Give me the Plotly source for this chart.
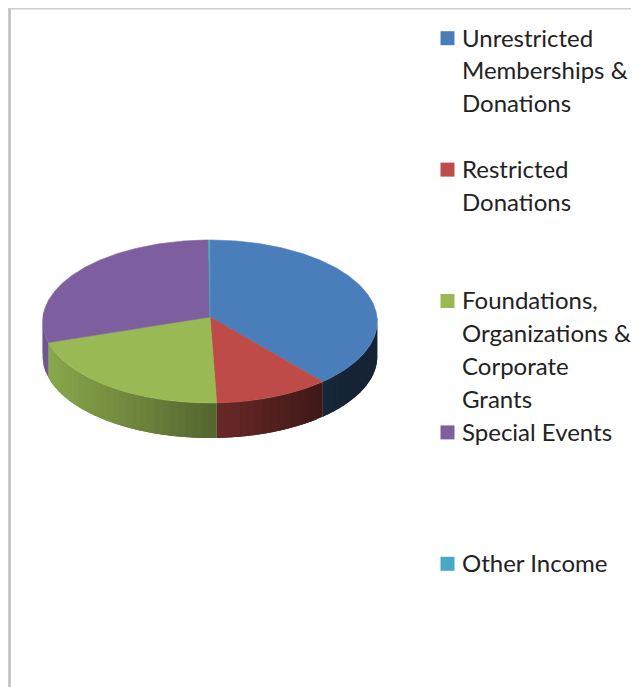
import numpy as np
import plotly.graph_objects as go

categories = ["Unrestricted Memberships & Donations", "Restricted Donations",
              "Foundations, Organizations & Corporate Grants", "Special Events", "Other Income"]
values = [38.8, 10.6, 20.6, 29.85, 0.15]
colors = ["#4A7EBB", "#BE4B48", "#98B954", "#7D5FA0", "#46AAC5"]
legend_lines = [["Unrestricted", "Memberships &", "Donations"],
                ["Restricted", "Donations"],
                ["Foundations,", "Organizations &", "Corporate", "Grants"],
                ["Special Events"],
                ["Other Income"]]

W, H = 639, 687
PAGE_INSET = 8  # the page body keeps an 8px margin around the figure
CX, CY, RX, RY, K, DEPTH = 210.0, 317.0, 167.0, 81.25, 0.0552, 35.0


def project(theta_deg):
    t = np.radians(theta_deg)
    u, v = np.sin(t), -np.cos(t)
    d = 1 - K * v
    return CX + RX * u / d, CY + RY * v / d


def shade(hex_color, f):
    rgb = [int(hex_color[i:i + 2], 16) for i in (1, 3, 5)]
    return "rgb(%d,%d,%d)" % tuple(max(0, min(255, round(c * f))) for c in rgb)


fig = go.Figure()
edges = np.concatenate([[0], np.cumsum(values)]) / sum(values) * 360

# side wall: overlapping bands painted in sweep order, so no seams show
for i, col in enumerate(colors):
    a0, a1 = max(edges[i], 90), min(edges[i + 1], 274)
    if a1 <= a0:
        continue
    n = max(1, int((a1 - a0) / 2.5))
    steps = np.linspace(a0, a1, n + 1)
    for s0, s1 in zip(steps[:-1], steps[1:]):
        th = np.linspace(s0, a1 if s1 + 3 > a1 else s1 + 3, 5)
        xc, _ = project((s0 + s1) / 2)
        f = max(0.28, 0.9 - 0.0021 * (xc - 50))
        x, y = project(th)
        fig.add_trace(go.Scatter(
            x=np.concatenate([x, x[::-1]]), y=np.concatenate([y, y[::-1] + DEPTH]),
            mode="none", fill="toself", fillcolor=shade(col, f),
            hoverinfo="skip", showlegend=False))

# top face
for i, col in enumerate(colors):
    th = np.linspace(edges[i], edges[i + 1], max(3, int((edges[i + 1] - edges[i]) * 2)))
    x, y = project(th)
    fig.add_trace(go.Scatter(
        x=np.concatenate([[CX], x, [CX]]), y=np.concatenate([[CY], y, [CY]]),
        mode="lines", fill="toself", fillcolor=col, line=dict(color=col, width=0.6),
        name=categories[i], hoverinfo="name", showlegend=False))

# legend
LEGEND_X, TEXT_X, LEGEND_TOP, LEGEND_STEP, LINE_H = 447.5, 459.5, 38.2, 131.4, 32.8
TEXT_DY = -1.2
annotations = []
for i, (col, lines) in enumerate(zip(colors, legend_lines)):
    ly = LEGEND_TOP + i * LEGEND_STEP
    fig.add_trace(go.Scatter(x=[LEGEND_X], y=[ly], mode="markers",
                             marker=dict(symbol="square", size=14, color=col),
                             hoverinfo="skip", showlegend=False))
    for j, txt in enumerate(lines):
        annotations.append(dict(x=TEXT_X, y=ly + TEXT_DY + j * LINE_H, text=txt, xref="x", yref="y",
                                xanchor="left", yanchor="middle", showarrow=False,
                                font=dict(family="Lato", size=24, color="#222222")))

shapes = [
    dict(type="line", xref="x", yref="y", x0=9.5, x1=9.5, y0=8, y1=H, line=dict(color="#bdbdbd", width=2.5)),
    dict(type="line", xref="x", yref="y", x0=9.5, x1=W, y0=8.7, y1=8.7, line=dict(color="#cfcfcf", width=1.5)),
]

fig.update_layout(
    width=W - PAGE_INSET, height=H - PAGE_INSET, margin=dict(l=0, r=0, t=0, b=0),
    paper_bgcolor="white", plot_bgcolor="white",
    xaxis=dict(range=[PAGE_INSET, W], visible=False, fixedrange=True),
    yaxis=dict(range=[H, PAGE_INSET], visible=False, fixedrange=True),
    annotations=annotations, shapes=shapes, showlegend=False,
)
fig.write_html("out.html", config={"displayModeBar": False})
